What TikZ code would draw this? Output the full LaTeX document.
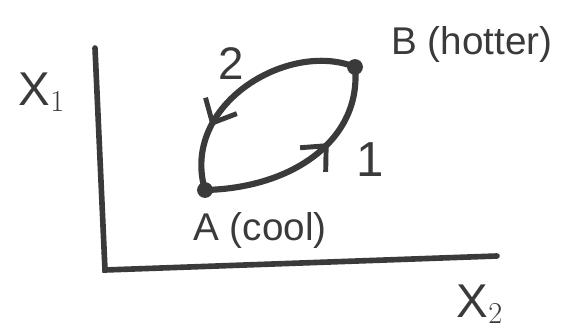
\documentclass[tikz,border=0pt]{standalone}
\usepackage{fontspec}
\setmainfont{Liberation Sans}
\usetikzlibrary{arrows.meta,decorations.markings}
\definecolor{ink}{HTML}{3A3A3A}

\tikzset{
	axis/.style={draw=ink,line width=3.2pt,line cap=round},
	process/.style={draw=ink,line width=3.5pt,line cap=round},
	state/.style={fill=ink},
	tag/.style={text=ink,font=\fontsize{22}{24}\selectfont,inner sep=0pt},
	midarrow/.style={postaction={decorate},decoration={markings,
		mark=at position #1 with {\arrow{Straight Barb[length=11pt,width=20pt,line width=2.8pt]}}}}
}

\begin{document}
\begin{tikzpicture}[x=0.02cm,y=-0.02cm]
	\useasboundingbox (0,0) rectangle (562,329);
	% axes
	\coordinate (top) at (95,48);
	\coordinate (O) at (105,270);
	\coordinate (right) at (497,256);
	\draw[axis] (top) -- (O) -- (right);
	\node[tag,font=\fontsize{27}{29}\selectfont] (x1) at (42,92) {X$_1$};
	\node[tag,font=\fontsize{27}{29}\selectfont] (x2) at (480,304) {X$_2$};
	% states
	\coordinate (A) at (205,190);
	\coordinate (B) at (355,67);
	\draw[process,midarrow=0.62] (A) .. controls (295,188) and (362,138) .. (B);
	\draw[process,midarrow=0.72] (B) .. controls (288,40) and (180,105) .. (A);
	\fill[state] (A) circle (4.5pt);
	\fill[state] (B) circle (4.5pt);
	\node[tag] (lblA) at (260,230) {A (cool)};
	\node[tag] (lblB) at (472,44) {B (hotter)};
	\node[tag,font=\fontsize{26}{28}\selectfont] (n2) at (231,64) {2};
	\node[tag,font=\fontsize{28}{30}\selectfont] (n1) at (370,160) {1};
\end{tikzpicture}
\end{document}
